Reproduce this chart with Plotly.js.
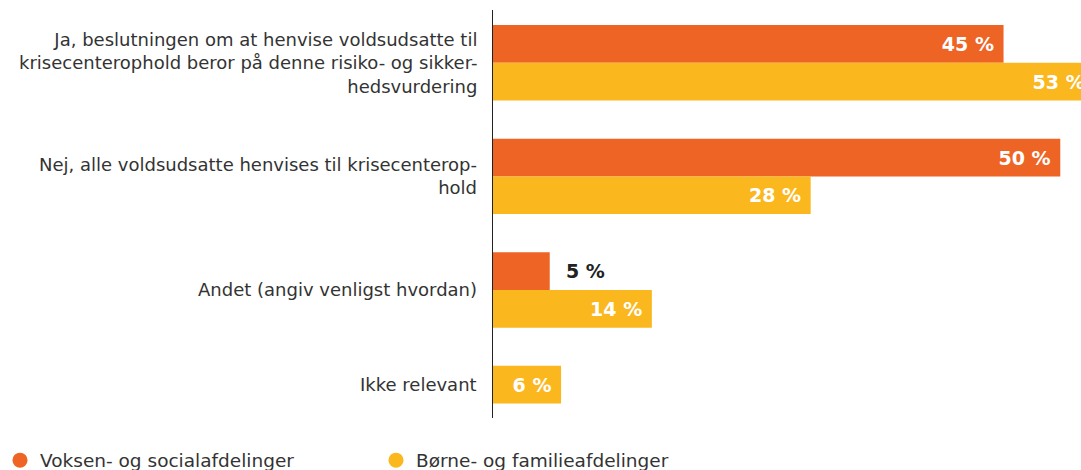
<!DOCTYPE html>
<html>
<head>
<meta charset="utf-8">
<script src="https://cdn.plot.ly/plotly-3.0.1.min.js"></script>
<style>
  html, body { margin: 0; padding: 0; overflow: hidden; background: #fff; }
  #chart { width: 1120px; height: 470px; }
</style>
</head>
<body>
<div id="chart"></div>
<script>
// ---- data ----
const categories = [
  "Ja, beslutningen om at henvise voldsudsatte til<br>krisecenterophold beror på denne risiko- og sikker-<br>hedsvurdering",
  "Nej, alle voldsudsatte henvises til krisecenterop-<br>hold",
  "Andet (angiv venligst hvordan)",
  "Ikke relevant"
];
const seriesNames = ["Voksen- og socialafdelinger", "Børne- og familieafdelinger"];
const voksenValues = [45, 50, 5, null];
const borneValues = [53, 28, 14, 6];

// ---- style ----
const colors = ["#EE6424", "#FBB71E"];
const barW = 0.332;
const nbsp = "\u00A0";
const outsideThreshold = 6;
const FONT = "DejaVu Sans, sans-serif";

function labels(vals) {
  return vals.map(v => v == null ? "" :
    (v < outsideThreshold ? nbsp + nbsp + v + " %" : v + " %" + nbsp));
}
function positions(vals) {
  return vals.map(v => (v != null && v < outsideThreshold) ? "outside" : "inside");
}

const textFont = { family: FONT, size: 19, color: "#ffffff", weight: 700 };

const traces = [
  {
    type: "bar", orientation: "h", name: seriesNames[0],
    y: categories, x: voksenValues,
    width: barW, offset: voksenValues.map(() => -barW),
    marker: { color: colors[0] },
    text: labels(voksenValues), textposition: positions(voksenValues),
    insidetextanchor: "end",
    insidetextfont: textFont,
    outsidetextfont: Object.assign({}, textFont, { color: "#222222" }),
    textangle: 0, constraintext: "none", cliponaxis: true,
    showlegend: false, hoverinfo: "x+y"
  },
  {
    type: "bar", orientation: "h", name: seriesNames[1],
    y: categories, x: borneValues,
    width: barW, offset: voksenValues.map(v => v == null ? -barW : 0),
    marker: { color: colors[1] },
    text: labels(borneValues), textposition: positions(borneValues),
    insidetextanchor: "end",
    insidetextfont: textFont,
    outsidetextfont: Object.assign({}, textFont, { color: "#222222" }),
    textangle: 0, constraintext: "none", cliponaxis: true,
    showlegend: false, hoverinfo: "x+y"
  },
  {
    type: "scatter", mode: "markers", name: seriesNames[0], legend: "legend",
    x: [null], y: [null], marker: { color: colors[0], size: 15, symbol: "circle" },
    showlegend: true
  },
  {
    type: "scatter", mode: "markers", name: seriesNames[1], legend: "legend2",
    x: [null], y: [null], marker: { color: colors[1], size: 15, symbol: "circle" },
    showlegend: true
  }
];

// category labels centred on the bars present in each group
const annotations = categories.map((c, i) => {
  const hasV = voksenValues[i] != null;
  const center = hasV ? 0 : -barW / 2;
  return {
    xref: "x", yref: "y", x: 0, y: i + center,
    text: c, showarrow: false, xanchor: "right", yanchor: "middle",
    align: "right", xshift: -14,
    font: { family: FONT, size: 18, color: "#333333" }
  };
});

const legendBase = {
  orientation: "h", xref: "container", yref: "container",
  xanchor: "left", y: 0.02, yanchor: "middle",
  font: { family: FONT, size: 18.5, color: "#333333" },
  bgcolor: "rgba(0,0,0,0)"
};

const layout = {
  width: 1120, height: 470,
  margin: { l: 493, r: 3, t: 10, b: 52 },
  paper_bgcolor: "#ffffff", plot_bgcolor: "#ffffff",
  barmode: "overlay",
  xaxis: { range: [0, 55], showgrid: false, zeroline: false, showline: false,
           showticklabels: false, ticks: "", fixedrange: true },
  yaxis: { type: "category", range: [3.127, -0.465], autorange: false,
           showgrid: false, zeroline: false, showticklabels: false, ticks: "",
           showline: true, linecolor: "#222222", linewidth: 1, fixedrange: true },
  showlegend: true,
  legend: Object.assign({}, legendBase, { x: 0 }),
  legend2: Object.assign({}, legendBase, { x: 376 / 1120 }),
  annotations: annotations
};

Plotly.newPlot("chart", traces, layout, { displayModeBar: false, staticPlot: true });
</script>
</body>
</html>
